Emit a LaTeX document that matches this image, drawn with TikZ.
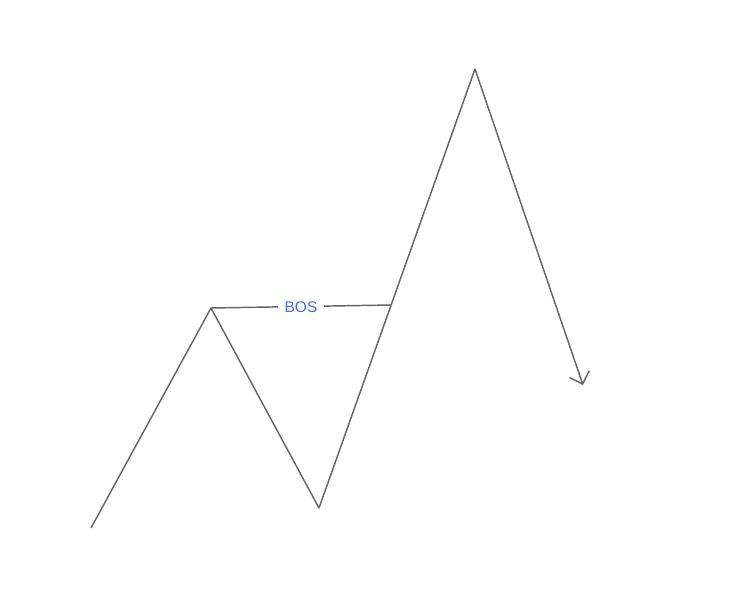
\documentclass[tikz,border=0pt]{standalone}
\usepackage{fontspec}
\setmainfont{Liberation Sans}
\usetikzlibrary{arrows.meta}
\definecolor{legcol}{HTML}{666666}
\definecolor{boscol}{HTML}{3D6BFF}

\begin{document}
\begin{tikzpicture}[x=0.75pt, y=-0.75pt,
		leg/.style={draw=legcol, line width=1.1pt, line join=round},
		boslabel/.style={fill=white, text=boscol, font=\fontsize{11.6}{13}\selectfont, inner xsep=5pt, inner ysep=1pt, yshift=-0.8pt}]
		\useasboundingbox (0,0) rectangle (733,603);
		\coordinate (start) at (91,528);
		\coordinate (hi1) at (211,308);
		\coordinate (lo1) at (319,508);
		\coordinate (brk) at (391,305);
		\coordinate (hi2) at (475,69);
		\coordinate (tip) at (583,385);
		\draw[leg] (start)--(hi1)--(lo1)--(hi2);
		\draw[leg, -{Straight Barb[length=7.8pt, width=15.7pt]}] (hi2)--(tip);
		\draw[leg] (hi1)--(brk) node[boslabel, midway] (bos) {BOS};
	\end{tikzpicture}
\end{document}
